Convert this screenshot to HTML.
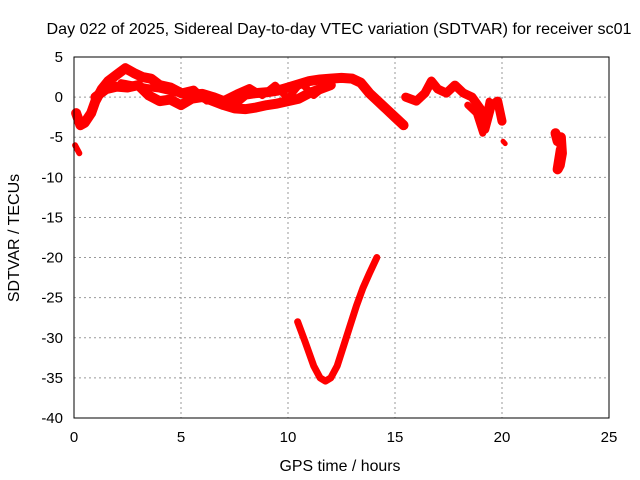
<!DOCTYPE html>
<html><head><meta charset="utf-8"><style>
body{margin:0;background:#fff}
svg{display:block;font-family:"Liberation Sans",sans-serif}
</style></head><body>
<svg id="chart" width="640" height="480" viewBox="0 0 640 480">
<rect width="640" height="480" fill="#fff"/>
<g id="grid"></g>
<g id="marks"></g>
<rect x="74" y="57" width="535" height="361" fill="none" stroke="#000" stroke-width="1"/>
<g id="ticks"></g>
<text x="339" y="34" text-anchor="middle" font-size="16" textLength="585" lengthAdjust="spacingAndGlyphs">Day 022 of 2025, Sidereal Day-to-day VTEC variation (SDTVAR) for receiver sc01</text>
<text x="340" y="471" text-anchor="middle" font-size="16" textLength="121" lengthAdjust="spacingAndGlyphs">GPS time / hours</text>
<text transform="translate(19,238) rotate(-90)" text-anchor="middle" font-size="16">SDTVAR / TECUs</text>
</svg>
<script>
const xTicks=[0,5,10,15,20,25];
const yTicks=[5,0,-5,-10,-15,-20,-25,-30,-35,-40];
const trackUpperT=[0.1,0.3,0.5,0.8,1.0,1.3,1.6,2.0,2.4,2.8,3.2,3.6,4.0,4.5,5.0,5.5,6.0,6.5,7.0,7.5,8.0,8.5,9.0,9.5,10.0,10.5,11.0,11.5,12.0,12.5,13.0,13.4,13.8,14.2,14.6,15.0,15.4];
const trackUpperV=[-2,-3.5,-3.2,-2,-0.5,1,2,2.8,3.6,3,2.5,2.3,1.5,1.2,0.5,0.3,0.4,0,-0.5,-0.8,0.3,0.5,0.6,0.8,1.2,1.6,2,2.2,2.3,2.4,2.3,1.8,0.5,-0.5,-1.5,-2.5,-3.5];
const trackLowerT=[1.0,1.5,2.0,2.5,3.0,3.5,4.0,4.5,5.0,5.5,6.0,6.5,7.0,7.5,8.0,8.5,9.0,9.5,10.0,10.5,11.0,11.5,12.0];
const trackLowerV=[0,1,1.3,1.2,1.5,0.2,-0.5,-0.3,-1,-0.2,0,-0.5,-1,-1.4,-1.5,-1.3,-1,-0.8,-0.5,-0.2,0.5,1,1.5];
const trackMidT=[2.2,2.8,3.4,4.0,4.8,5.6,6.2,7.0,7.6,8.2,8.8,9.4,10.0,10.6,11.2,11.8];
const trackMidV=[1.8,1.5,1.2,1,0.5,1,-0.5,-0.3,0.5,1.2,0.2,1.5,-0.2,1.8,0.2,1.5];
const trackEarlyT=[0.05,0.15,0.25];
const trackEarlyV=[-6,-6.5,-7];
const trackLateT=[15.5,16.0,16.4,16.7,17.0,17.4,17.8,18.2,18.6,19.0,19.2,19.5,19.8,20.0];
const trackLateV=[0,-0.5,0.5,2,1,0.5,1.5,0.5,0,-1.5,-4,-1,-0.5,-3];
const trackLateBT=[18.4,18.8,19.1,19.4];
const trackLateBV=[-1,-2,-4.5,-0.5];
const trackDotT=[20.05,20.15];
const trackDotV=[-5.5,-5.8];
const trackEndT=[22.5,22.6,22.75,22.8,22.7,22.6,22.75];
const trackEndV=[-4.5,-5.5,-5,-7,-8.5,-9,-6.5];
const curveT=[10.45,10.8,11.2,11.5,11.75,12.0,12.3,12.6,12.9,13.2,13.5,13.8,14.15];
const curveV=[-28,-30.5,-33.5,-35,-35.4,-35,-33.5,-31,-28.5,-26,-23.8,-22,-20];

const X0=74,X1=609,Y0=418,Y1=57;
const xs=t=>X0+(t-0)/(25-0)*(X1-X0);
const ys=v=>Y0-(v+40)/(5+40)*(Y0-Y1);
const NS='http://www.w3.org/2000/svg';
const grid=document.getElementById('grid'),ticks=document.getElementById('ticks'),marks=document.getElementById('marks');
xTicks.forEach(t=>{
  const x=xs(t);
  if(t>0&&t<25){const l=document.createElementNS(NS,'line');
  
  
  l.setAttribute('x1',x);l.setAttribute('x2',x);l.setAttribute('y1',Y1);l.setAttribute('y2',Y0);
  l.setAttribute('stroke','#999');l.setAttribute('stroke-dasharray','2,3');grid.appendChild(l);}
  const tx=document.createElementNS(NS,'text');
  
  
  tx.setAttribute('x',x);tx.setAttribute('y',Y0+24);tx.setAttribute('text-anchor','middle');tx.setAttribute('font-size','15');
  tx.textContent=t;ticks.appendChild(tx);
});
yTicks.forEach(v=>{
  const y=ys(v);
  if(v<5&&v>-40){const l=document.createElementNS(NS,'line');
  
  
  l.setAttribute('x1',X0);l.setAttribute('x2',X1);l.setAttribute('y1',y);l.setAttribute('y2',y);
  l.setAttribute('stroke','#999');l.setAttribute('stroke-dasharray','2,3');grid.appendChild(l);}
  const tx=document.createElementNS(NS,'text');
  
  
  tx.setAttribute('x',X0-11);tx.setAttribute('y',y+5);tx.setAttribute('text-anchor','end');tx.setAttribute('font-size','15');
  tx.textContent=v;ticks.appendChild(tx);
});
function track(T,V,w,name){
  const p=document.createElementNS(NS,'polyline');
  
  
  p.setAttribute('points',T.map((t,i)=>xs(t)+','+ys(V[i])).join(' '));
  p.setAttribute('fill','none');p.setAttribute('stroke','#f00');p.setAttribute('stroke-width',w);
  p.setAttribute('stroke-linejoin','round');p.setAttribute('stroke-linecap','round');
  marks.appendChild(p);
}
track(trackUpperT,trackUpperV,10,'series-upper');
track(trackLowerT,trackLowerV,10,'series-lower');
track(trackMidT,trackMidV,7,'series-mid');
track(trackEarlyT,trackEarlyV,6,'series-early');
track(trackLateT,trackLateV,9,'series-late');
track(trackLateBT,trackLateBV,7,'series-late-b');
track(trackDotT,trackDotV,5,'series-dot');
track(trackEndT,trackEndV,10,'series-end');
track(curveT,curveV,7,'series-curve');
</script>
</body></html>
